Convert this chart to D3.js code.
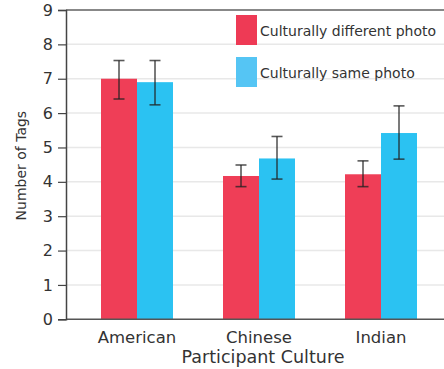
<!DOCTYPE html>
<html>
<head>
<meta charset="utf-8">
<script src="https://cdn.jsdelivr.net/npm/d3@7"></script>
<style>
  html, body { margin: 0; padding: 0; background: #fff; }
  svg { display: block; }
</style>
</head>
<body>
<svg id="chart" width="444" height="369"></svg>
<script>
// Mean number of tags per participant culture, with error bar bounds
const categories = ["American", "Chinese", "Indian"];
const seriesNames = ["Culturally different photo", "Culturally same photo"];
const differentMeans = [7.0, 4.17, 4.22];
const differentLow = [6.41, 3.86, 3.86];
const differentHigh = [7.53, 4.49, 4.61];
const sameMeans = [6.9, 4.68, 5.42];
const sameLow = [6.24, 4.08, 4.66];
const sameHigh = [7.53, 5.32, 6.21];
const yTicks = [0, 1, 2, 3, 4, 5, 6, 7, 8, 9];

const colors = ["#ef3e57", "#2bc2f2"];
const legendColors = ["#ee3a55", "#55c5f4"];
const font = "DejaVu Sans, sans-serif";

const svg = d3.select("#chart");
const plotLeft = 66, plotTop = 10, plotBottom = 319.3, plotRight = 460;

const y = d3.scaleLinear().domain([0, 9]).range([plotBottom, plotTop]);
const x0 = d3.scaleBand().domain(categories).range([76, 442]).padding(0);
const x1 = d3.scaleBand().domain([0, 1]).range([0, 72]);

// light horizontal grid
svg.append("g")
  .selectAll("line")
  .data(yTicks.filter(d => d > 0 && d < 9))
  .join("line")
  .attr("x1", plotLeft).attr("x2", plotRight)
  .attr("y1", d => y(d)).attr("y2", d => y(d))
  .attr("stroke", "#e8e8e8").attr("stroke-width", 1.5);

// bars
const rows = categories.map((c, i) => [
  { c, s: 0, v: differentMeans[i], lo: differentLow[i], hi: differentHigh[i] },
  { c, s: 1, v: sameMeans[i], lo: sameLow[i], hi: sameHigh[i] }
]).flat();

const bx = d => x0(d.c) + x0.bandwidth() / 2 - 36 + x1(d.s);

svg.append("g")
  .selectAll("rect")
  .data(rows)
  .join("rect")
  .attr("x", bx)
  .attr("y", d => y(d.v))
  .attr("width", x1.bandwidth())
  .attr("height", d => y(0) - y(d.v))
  .attr("fill", d => colors[d.s]);

// error bars
const eb = svg.append("g")
  .attr("stroke", "#222").attr("stroke-opacity", 0.75).attr("stroke-width", 1.6);
rows.forEach(d => {
  const cx = bx(d) + x1.bandwidth() / 2;
  eb.append("line").attr("x1", cx).attr("x2", cx).attr("y1", y(d.hi)).attr("y2", y(d.lo));
  eb.append("line").attr("x1", cx - 5.5).attr("x2", cx + 5.5).attr("y1", y(d.hi)).attr("y2", y(d.hi));
  eb.append("line").attr("x1", cx - 5.5).attr("x2", cx + 5.5).attr("y1", y(d.lo)).attr("y2", y(d.lo));
});

// frame: top border and baseline
svg.append("line").attr("x1", plotLeft).attr("x2", plotRight).attr("y1", plotTop).attr("y2", plotTop)
  .attr("stroke", "#888").attr("stroke-width", 2);
svg.append("line").attr("x1", plotLeft).attr("x2", plotRight).attr("y1", plotBottom).attr("y2", plotBottom)
  .attr("stroke", "#555").attr("stroke-width", 1.5);

// y axis
const yAxis = svg.append("g")
  .attr("transform", `translate(${plotLeft},0)`)
  .call(d3.axisLeft(y).tickValues(yTicks).tickSize(8).tickPadding(5).tickFormat(d3.format("d")));
yAxis.select(".domain").attr("stroke", "#444").attr("stroke-width", 1.5);
yAxis.selectAll(".tick line").attr("stroke", "#444").attr("stroke-width", 1.2);
yAxis.selectAll(".tick text")
  .attr("font-family", font).attr("font-size", 16).attr("fill", "#333");

// x axis labels
const xAxis = svg.append("g")
  .attr("transform", `translate(0,${plotBottom})`)
  .call(d3.axisBottom(x0).tickSize(0));
xAxis.select(".domain").remove();
xAxis.selectAll(".tick text")
  .attr("y", 23.4).attr("dy", null)
  .attr("font-family", font).attr("font-size", 16.5).attr("fill", "#333");

// axis titles
svg.append("text")
  .attr("x", 263).attr("y", 363)
  .attr("text-anchor", "middle")
  .attr("font-family", font).attr("font-size", 17.5).attr("fill", "#333")
  .text("Participant Culture");

svg.append("text")
  .attr("transform", `translate(26,${(plotTop + plotBottom) / 2 + 1}) rotate(-90)`)
  .attr("text-anchor", "middle")
  .attr("font-family", font).attr("font-size", 14).attr("fill", "#333")
  .text("Number of Tags");

// legend
const legend = svg.append("g");
seriesNames.forEach((name, i) => {
  const ly = 15 + i * 42;
  legend.append("rect")
    .attr("x", 236).attr("y", ly).attr("width", 21).attr("height", 30)
    .attr("fill", legendColors[i]);
  legend.append("text")
    .attr("x", 260).attr("y", ly + 21)
    .attr("font-family", font).attr("font-size", 14).attr("fill", "#333")
    .text(name);
});
</script>
</body>
</html>
